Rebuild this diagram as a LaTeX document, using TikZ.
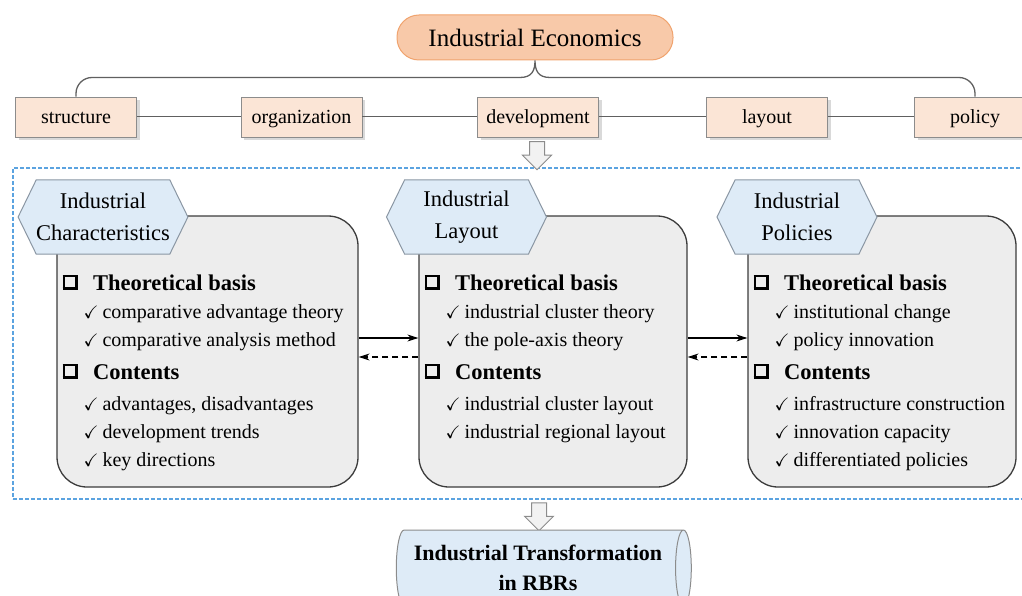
\documentclass[tikz,border=0pt]{standalone}
\usepackage{fontspec}
\setmainfont{Liberation Serif}
\usepackage{amssymb}
\usetikzlibrary{positioning,calc,arrows.meta,shapes.geometric,shapes.symbols,shapes.arrows,shadows}
\definecolor{topfill}{HTML}{F8C9A9}
\definecolor{topedge}{HTML}{F0A36E}
\definecolor{boxfill}{HTML}{FBE5D6}
\definecolor{boxedge}{HTML}{8C8C8C}
\definecolor{linegray}{HTML}{606060}
\definecolor{groupblue}{HTML}{5BA3E0}
\definecolor{panelfill}{HTML}{EDEDED}
\definecolor{paneledge}{HTML}{3C3C3C}
\definecolor{tagfill}{HTML}{DEEBF7}
\definecolor{tagedge}{HTML}{8A96A3}
\definecolor{arrowfill}{HTML}{F2F2F2}
\definecolor{arrowgray}{HTML}{8C8C8C}
% small glyphs used in the lists
\newcommand{\hollowsq}{\raisebox{2.8pt}{\setlength{\fboxrule}{2.8pt}\setlength{\fboxsep}{0pt}\fbox{\rule{0pt}{10pt}\hspace{10pt}}}}
\newcommand{\chk}{{\fontsize{18}{18}\selectfont$\checkmark$}}
\newcommand{\heading}[1]{{\fontsize{22.5}{28}\selectfont\bfseries\hollowsq\hspace{15pt}#1}}
\newcommand{\point}[1]{\hspace{21pt}\chk\hspace{4pt}#1}
\tikzset{
  topic/.style={draw=topedge,fill=topfill,line width=1pt,rounded corners=22pt,minimum width=276pt,minimum height=45pt,
    text height=24pt,text depth=5pt,font=\fontsize{25}{30}\selectfont},
  facet/.style={draw=boxedge,fill=boxfill,line width=0.8pt,minimum width=121pt,minimum height=40pt,
    text height=18pt,text depth=4pt,font=\fontsize{20}{24}\selectfont,
    drop shadow={opacity=0.3,shadow xshift=3pt,shadow yshift=-3pt}},
  brace/.style={draw=linegray,line width=1.3pt},
  link/.style={draw=linegray,line width=1pt},
  group/.style={draw=groupblue,line width=1.2pt,dash pattern=on 4pt off 2pt,minimum width=1022pt,minimum height=331pt},
  panel/.style={draw=paneledge,fill=panelfill,line width=1.3pt,rounded corners=30pt,minimum height=271pt},
  tag/.style={signal,signal to=west and east,signal pointer angle=128,draw=tagedge,fill=tagfill,line width=1pt,
    minimum width=160pt,minimum height=74pt,inner sep=0pt,align=center,font=\fontsize{22.5}{32}\selectfont},
  items/.style={anchor=north west,inner sep=0pt,align=left,font=\fontsize{20}{28}\selectfont},
  hollow/.style={single arrow,draw=arrowgray,fill=arrowfill,line width=1pt,shape border rotate=270,
    minimum height=28pt,minimum width=28pt,inner sep=7pt,single arrow head extend=7pt},
  drum/.style={cylinder,draw=arrowgray,fill=tagfill,line width=1pt,aspect=0.3,minimum width=76pt,minimum height=295pt,
    align=center,font=\fontsize{22}{30}\selectfont\bfseries},
  fwd/.style={-{Stealth[length=11pt,width=7pt]},line width=1.1pt},
  bwd/.style={fwd,dash pattern=on 6pt off 4pt}
}
\begin{document}
\begin{tikzpicture}[x=1pt,y=-1pt]
\useasboundingbox (0,0) rectangle (1022,596);
\clip (0,0) rectangle (1022,596);

% dashed frame round the three panels
\node[group] (frame) at (524,333.5) {};

% root and its five facets
\node[topic] (top) at (535,37.5) {Industrial Economics};
\node[facet] (structure) at (76,117) {structure};
\node[facet] (organization) at (301.5,117) {organization};
\node[facet] (development) at (538,117) {development};
\node[facet] (layout) at (767,117) {layout};
\node[facet] (policy) at (975,117) {policy};
\draw[link] (structure) -- (organization);
\draw[link] (organization) -- (development);
\draw[link] (development) -- (layout);
\draw[link] (layout) -- (policy);

% curly brace under the root
\coordinate (bl) at ($(top.south)+(-15,17)$);
\coordinate (br) at ($(top.south)+(15,17)$);
\draw[brace,rounded corners=16pt] (structure.north) |- (bl);
\draw[brace,rounded corners=16pt] (policy.north) |- (br);
\draw[brace] (bl) .. controls +(12,0) and +(0,10) .. (top.south) .. controls +(0,10) and +(-12,0) .. (br);

\node[hollow] (downA) at (537,152) {};

% three panels
\node[panel,minimum width=301pt] (charac) at (207.5,351.5) {};
\node[panel,minimum width=268pt] (lay) at (553,351.5) {};
\node[panel,minimum width=268pt] (pol) at (882,351.5) {};

\node[tag] (tagA) at (103,217) {Industrial\\Characteristics};
\node[tag] (tagB) at (466.5,217) {Industrial\\Layout};
\node[tag] (tagC) at (797,217) {Industrial\\Policies};

\node[items] (listA) at ([xshift=6pt,yshift=-59pt]charac.north west) {%
  \heading{Theoretical basis}\\
  \point{comparative advantage theory}\\
  \point{comparative analysis method}\\[5pt]
  \heading{Contents}\\[3pt]
  \point{advantages, disadvantages}\\
  \point{development trends}\\
  \point{key directions}};
\node[items] (listB) at ([xshift=6pt,yshift=-59pt]lay.north west) {%
  \heading{Theoretical basis}\\
  \point{industrial cluster theory}\\
  \point{the pole-axis theory}\\[5pt]
  \heading{Contents}\\[3pt]
  \point{industrial cluster layout}\\
  \point{industrial regional layout}};
\node[items] (listC) at ([xshift=6pt,yshift=-59pt]pol.north west) {%
  \heading{Theoretical basis}\\
  \point{institutional change}\\
  \point{policy innovation}\\[5pt]
  \heading{Contents}\\[3pt]
  \point{infrastructure construction}\\
  \point{innovation capacity}\\
  \point{differentiated policies}};

% links between neighbouring panels
\draw[fwd] ([yshift=13.5pt]charac.east) -- ([yshift=13.5pt]lay.west);
\draw[bwd] ([yshift=-5.5pt]lay.west) -- ([yshift=-5.5pt]charac.east);
\draw[fwd] ([yshift=13.5pt]lay.east) -- ([yshift=13.5pt]pol.west);
\draw[bwd] ([yshift=-5.5pt]pol.west) -- ([yshift=-5.5pt]lay.east);

\node[hollow] (downB) at (539,513) {};
\node[drum] (goal) at (538,568) {Industrial Transformation\\in RBRs};
\end{tikzpicture}
\end{document}
